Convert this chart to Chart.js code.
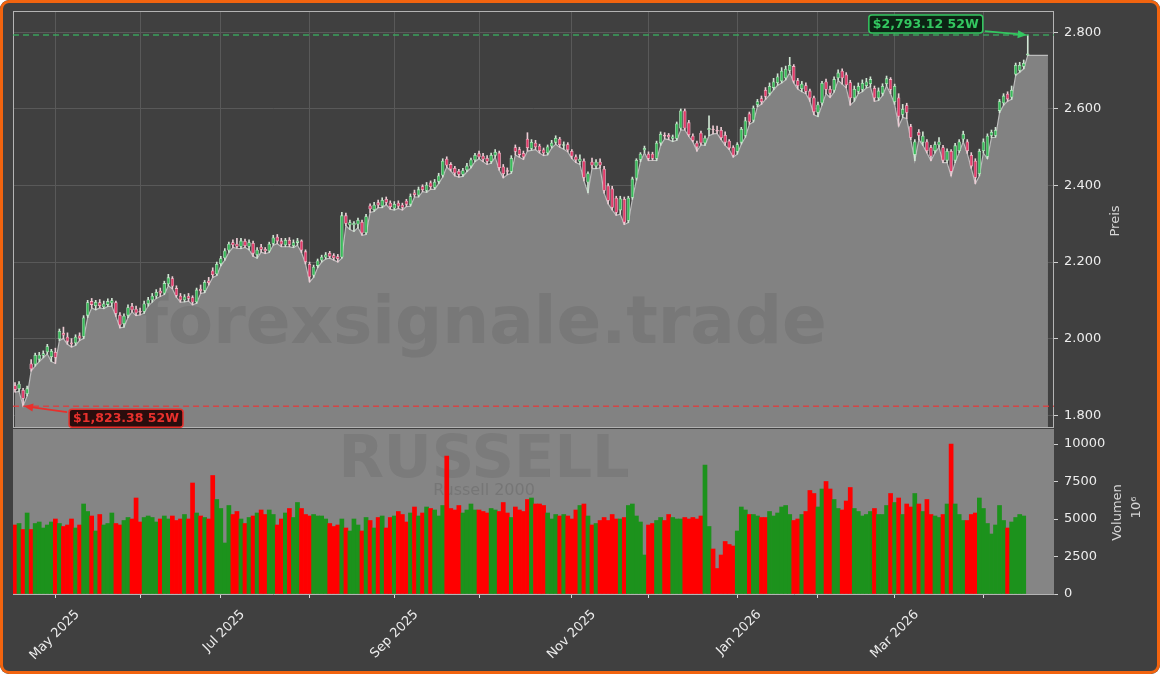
<!DOCTYPE html>
<html>
<head>
<meta charset="utf-8">
<script src="https://cdn.jsdelivr.net/npm/chart.js@4.4.1/dist/chart.umd.min.js"></script>
<style>
  body { margin: 0; background: #ffffff; }
  #wrap { position: relative; width: 1160px; height: 674px; background: #404040; border-radius: 9px; overflow: hidden; }
  #frame { position: absolute; left: 0; top: 0; width: 1160px; height: 674px; box-sizing: border-box;
           border: 3px solid #f2640f; border-radius: 9px; pointer-events: none; }
  #price { position: absolute; left: 0; top: -20px; }
  #volume { position: absolute; left: 0; top: 0; }
</style>
</head>
<body>
<div id="wrap">
  <canvas id="price" width="1160" height="694"></canvas>
  <canvas id="volume" width="1160" height="674"></canvas>
  <div id="frame"></div>
</div>
<script>
// Russell 2000, daily candles, 52 weeks
const opens = [
  1878,1868,1866,1855,1935,1932,1945,1955,1964,1952, 1965,1998,2015,2005,1990,1988,2008,2005,2060,2098,
  2085,2095,2082,2088,2092,2095,2062,2038,2060,2085, 2078,2072,2070,2090,2100,2110,2125,2118,2142,2158,
  2132,2112,2100,2112,2108,2095,2130,2125,2152,2178, 2168,2195,2210,2230,2252,2248,2240,2255,2240,2250,
  2218,2240,2234,2228,2248,2266,2256,2244,2258,2242, 2250,2256,2228,2195,2165,2190,2204,2212,2224,2218,
  2215,2212,2322,2296,2296,2298,2305,2276,2348,2336, 2356,2346,2365,2355,2340,2355,2350,2360,2350,2382,
  2374,2398,2386,2408,2394,2410,2426,2470,2456,2446, 2438,2428,2440,2450,2466,2484,2478,2472,2462,2478,
  2486,2450,2440,2436,2500,2495,2485,2522,2496,2512, 2504,2494,2484,2502,2512,2522,2504,2508,2490,2476,
  2462,2465,2408,2462,2450,2462,2444,2400,2392,2368, 2335,2365,2308,2368,2418,2467,2492,2483,2483,2470,
  2510,2532,2532,2522,2522,2549,2596,2565,2530,2512, 2538,2510,2545,2548,2545,2545,2532,2517,2500,2488,
  2512,2530,2588,2570,2610,2628,2650,2640,2655,2668, 2672,2680,2700,2712,2675,2652,2662,2648,2630,2590,
  2615,2672,2652,2648,2680,2700,2690,2670,2628,2645, 2650,2660,2665,2655,2628,2640,2665,2678,2618,2630,
  2585,2610,2555,2480,2540,2512,2515,2500,2490,2505, 2500,2465,2490,2465,2490,2520,2515,2480,2465,2430,
  2490,2475,2530,2530,2595,2615,2640,2630,2690,2700, 2710,2740
];
const highs = [
  1885,1888,1870,1876,1945,1962,1964,1968,1985,1972, 1975,2025,2030,2015,2000,2010,2015,2060,2100,2105,
  2100,2102,2098,2104,2105,2098,2068,2065,2088,2092, 2085,2080,2098,2108,2118,2128,2132,2150,2168,2162,
  2138,2118,2115,2118,2112,2132,2140,2152,2160,2185, 2200,2215,2235,2252,2258,2262,2262,2260,2258,2255,
  2238,2246,2238,2252,2270,2272,2262,2262,2264,2258, 2262,2258,2232,2200,2192,2208,2218,2225,2228,2222,
  2220,2330,2328,2310,2306,2315,2310,2325,2352,2356, 2362,2368,2370,2360,2358,2360,2354,2364,2378,2388,
  2396,2402,2408,2412,2416,2432,2470,2475,2460,2450, 2442,2445,2458,2472,2484,2490,2484,2478,2485,2494,
  2490,2455,2446,2478,2506,2500,2490,2538,2520,2518, 2508,2498,2506,2518,2530,2526,2514,2512,2494,2480,
  2480,2470,2436,2472,2468,2470,2450,2405,2398,2372, 2372,2370,2372,2422,2470,2486,2503,2488,2487,2516,
  2540,2538,2536,2532,2566,2600,2600,2570,2535,2516, 2542,2530,2582,2556,2555,2552,2540,2520,2504,2512,
  2552,2578,2592,2608,2625,2634,2656,2668,2680,2692, 2708,2712,2735,2716,2680,2672,2668,2652,2634,2618,
  2672,2678,2660,2684,2702,2705,2695,2675,2660,2668, 2676,2680,2684,2660,2655,2666,2686,2682,2665,2640,
  2612,2615,2560,2520,2546,2540,2520,2505,2514,2525, 2505,2496,2494,2510,2520,2542,2520,2486,2470,2495,
  2522,2535,2545,2552,2625,2640,2645,2660,2720,2722, 2728,2793.12
];
const lows = [
  1860,1862,1823.38,1850,1915,1928,1940,1950,1960,1940, 1935,1995,2000,1985,1978,1982,1995,2000,2055,2080,
  2075,2080,2078,2084,2085,2058,2028,2030,2055,2070, 2060,2062,2066,2085,2095,2105,2110,2115,2138,2130,
  2108,2095,2096,2098,2088,2092,2118,2120,2140,2160, 2165,2190,2205,2225,2238,2236,2235,2238,2232,2215,
  2210,2226,2222,2225,2244,2248,2240,2240,2240,2238, 2244,2225,2195,2148,2160,2185,2200,2208,2210,2205,
  2200,2210,2295,2285,2280,2290,2270,2272,2330,2332, 2342,2342,2350,2338,2336,2340,2336,2345,2346,2370,
  2370,2384,2382,2390,2390,2405,2422,2448,2438,2425, 2422,2424,2436,2446,2462,2470,2462,2455,2458,2474,
  2440,2420,2428,2432,2480,2474,2468,2490,2492,2494, 2485,2478,2480,2498,2508,2500,2495,2488,2470,2460,
  2455,2412,2381,2445,2444,2446,2380,2352,2336,2322, 2325,2298,2303,2364,2414,2462,2486,2465,2466,2465,
  2505,2522,2520,2515,2518,2545,2545,2528,2514,2490, 2506,2505,2530,2535,2536,2520,2505,2494,2474,2482,
  2508,2526,2560,2566,2606,2612,2625,2636,2650,2662, 2668,2676,2695,2668,2652,2645,2640,2620,2585,2580,
  2610,2640,2630,2644,2675,2665,2655,2610,2620,2640, 2645,2655,2658,2620,2622,2635,2660,2640,2612,2555,
  2578,2575,2520,2465,2520,2505,2485,2465,2485,2500, 2460,2460,2425,2460,2486,2515,2484,2445,2405,2425,
  2485,2470,2525,2526,2590,2610,2620,2625,2688,2696, 2705,2740
];
const closes = [
  1866,1882,1843,1870,1920,1957,1958,1962,1980,1968, 1950,2020,2008,1992,1985,2005,2000,2055,2095,2088,
  2096,2085,2092,2098,2100,2065,2035,2060,2082,2074, 2066,2068,2092,2102,2112,2122,2118,2145,2160,2136,
  2112,2100,2110,2104,2094,2128,2124,2148,2145,2166, 2195,2210,2230,2248,2244,2240,2256,2242,2252,2222,
  2232,2232,2228,2248,2264,2254,2246,2258,2245,2252, 2256,2230,2200,2160,2188,2204,2214,2220,2214,2210,
  2208,2322,2300,2304,2302,2310,2275,2320,2338,2350, 2348,2362,2355,2344,2352,2345,2342,2350,2372,2375,
  2390,2388,2402,2396,2410,2426,2465,2452,2442,2432, 2428,2440,2452,2468,2480,2474,2468,2462,2480,2488,
  2446,2430,2436,2472,2488,2480,2474,2498,2514,2500, 2490,2484,2502,2512,2524,2506,2508,2492,2476,2466,
  2470,2420,2432,2452,2462,2452,2386,2360,2342,2329, 2366,2303,2368,2418,2467,2483,2498,2470,2470,2512,
  2535,2528,2526,2528,2562,2596,2549,2532,2517,2500, 2510,2525,2550,2545,2541,2524,2512,2497,2478,2508,
  2548,2570,2565,2603,2620,2618,2632,2660,2672,2685, 2700,2705,2715,2672,2660,2666,2645,2628,2592,2612,
  2668,2650,2640,2678,2695,2680,2662,2628,2652,2660, 2668,2672,2678,2628,2648,2660,2680,2650,2660,2580,
  2600,2590,2525,2515,2530,2530,2490,2476,2508,2515, 2465,2490,2436,2505,2515,2535,2490,2450,2420,2490,
  2515,2530,2540,2545,2620,2635,2625,2650,2715,2715, 2720,2745
];
// volume in millions, last session has no volume yet
const volumes = [
  4600,4700,4300,5400,4300,4700,4800,4400,4600,4800, 5000,4700,4500,4600,5000,4400,4600,6000,5500,5200,
  4200,5300,4600,4700,5400,4700,4600,4900,5100,5000, 6400,4800,5100,5200,5100,4800,5000,5200,5000,5200,
  4900,5000,5300,5000,7400,5400,5200,5100,5000,7900, 6300,5700,3400,5900,5300,5500,5000,4700,5100,5200,
  5400,5600,5300,5600,5300,4600,5000,5400,5700,5100, 6100,5700,5300,5200,5300,5200,5200,5000,4700,4500,
  4600,5000,4400,4200,5000,4600,4200,5100,4900,4400, 5100,5200,4400,5100,5200,5500,5300,4800,5400,5800,
  5200,5400,5800,5700,5600,5200,5900,9200,5700,5600, 5900,5400,5600,6000,5600,5600,5500,5400,5700,5600,
  5500,6100,5400,5100,5800,5600,5500,6300,6400,6000, 6000,5900,5400,5000,5300,5200,5300,5200,5000,5600,
  5900,6000,5200,4600,4700,4900,5100,4900,5300,5000, 5000,5100,5900,6000,5200,4800,2600,4600,4700,4900,
  5100,4900,5300,5100,5000,5000,5100,5000,5100,5000, 5200,8600,4500,3000,1700,2600,3500,3300,3200,4200,
  5800,5600,5300,5300,5200,5100,5100,5500,5200,5400, 5800,5900,5300,4900,5000,5300,5500,6900,6700,5800,
  7000,7500,7000,6300,5700,5600,6200,7100,5700,5500, 5200,5300,5500,5700,5300,5300,5900,6700,6100,6400,
  5300,6000,5800,6700,6000,5500,6300,5300,5200,5100, 5300,6000,10000,6000,5300,4900,4900,5300,5400,6400,
  5700,4700,4000,4600,5900,4900,4400,4800,5100,5300, 5200,null
];
// shaded low line runs on a few sessions past the last candle
const areaTail = [2740, 2740, 2740, 2740, 2740];
const priceTicks = [1800, 2000, 2200, 2400, 2600, 2800];
const volumeTicks = [0, 2500, 5000, 7500, 10000];
const labelledMonths = ['2025-05', '2025-07', '2025-09', '2025-11', '2026-01', '2026-03'];
const monthNames = ['Jan','Feb','Mar','Apr','May','Jun','Jul','Aug','Sep','Oct','Nov','Dec'];
const holidays = ['2025-04-18','2025-05-26','2025-06-19','2025-07-04','2025-09-01','2025-11-27',
                  '2025-12-25','2026-01-01','2026-01-19','2026-02-16','2026-04-03'];
const slotCount = 258;

// trading days as categories
const days = [];
const d = new Date(Date.UTC(2025, 3, 16));
while (days.length < slotCount) {
  const iso = d.toISOString().slice(0, 10);
  const wd = d.getUTCDay();
  if (wd !== 0 && wd !== 6 && !holidays.includes(iso)) days.push(iso);
  d.setUTCDate(d.getUTCDate() + 1);
}
const monthStarts = [];
for (let i = 1; i < days.length; i++) {
  if (days[i].slice(0, 7) !== days[i - 1].slice(0, 7)) monthStarts.push(i);
}

const UP = '#38bc5a', DOWN = '#e43a6a';
const isUp = closes.map((c, i) => c >= opens[i]);
const bodies = opens.map((o, i) => [o, closes[i]]);
const wicks = lows.map((l, i) => [l, highs[i]]);
const areaLine = lows.concat(areaTail);

const fmtDE = v => String(v).replace(/\B(?=(\d{3})+(?!\d))/g, '.');
const fmtUS = v => '$' + v.toLocaleString('en-US', { minimumFractionDigits: 2, maximumFractionDigits: 2 });

Chart.defaults.font.family = '"DejaVu Sans", sans-serif';
Chart.defaults.color = '#e8e8e8';

function rotatedTitles(ctx, items) {
  ctx.save();
  ctx.fillStyle = '#d6d6d6';
  ctx.font = '13px "DejaVu Sans"';
  ctx.textAlign = 'center';
  ctx.textBaseline = 'middle';
  items.forEach(t => {
    ctx.save();
    ctx.translate(t.x, t.y);
    ctx.rotate(-Math.PI / 2);
    ctx.fillText(t.text, 0, 0);
    ctx.restore();
  });
  ctx.restore();
}

function tag(ctx, text, x, y, alignRight, color, fill) {
  ctx.font = 'bold 12.5px "DejaVu Sans"';
  const w = ctx.measureText(text).width + 8, h = 18;
  const left = alignRight ? x - w : x;
  ctx.beginPath();
  ctx.roundRect(left, y - h / 2, w, h, 3);
  ctx.fillStyle = fill;
  ctx.fill();
  ctx.lineWidth = 1.5;
  ctx.strokeStyle = color;
  ctx.stroke();
  ctx.fillStyle = color;
  ctx.textAlign = 'left';
  ctx.textBaseline = 'middle';
  ctx.fillText(text, left + 4, y + 1);
}

function arrow(ctx, x1, y1, x2, y2, color) {
  const ang = Math.atan2(y2 - y1, x2 - x1);
  ctx.strokeStyle = color;
  ctx.fillStyle = color;
  ctx.lineWidth = 1.8;
  ctx.beginPath();
  ctx.moveTo(x1, y1);
  ctx.lineTo(x2 - 7 * Math.cos(ang), y2 - 7 * Math.sin(ang));
  ctx.stroke();
  ctx.beginPath();
  ctx.moveTo(x2, y2);
  ctx.lineTo(x2 - 9 * Math.cos(ang) + 4 * Math.sin(ang), y2 - 9 * Math.sin(ang) - 4 * Math.cos(ang));
  ctx.lineTo(x2 - 9 * Math.cos(ang) - 4 * Math.sin(ang), y2 - 9 * Math.sin(ang) + 4 * Math.cos(ang));
  ctx.closePath();
  ctx.fill();
}

const pricePlugin = {
  id: 'pricePlugin',
  afterDatasetDraw(chart, args) {
    if (args.index !== 0) return;
    const { ctx, chartArea: a } = chart;
    ctx.save();
    ctx.beginPath();
    ctx.rect(a.left, a.top, a.right - a.left, a.bottom - a.top);
    ctx.clip();
    ctx.fillStyle = 'rgba(25,25,25,0.09)';
    ctx.font = 'bold 66px "DejaVu Sans"';
    ctx.textAlign = 'center';
    ctx.textBaseline = 'middle';
    ctx.fillText('forexsignale.trade', 483, a.top + 315);
    ctx.restore();
  },
  afterDatasetsDraw(chart) {
    const { ctx, chartArea: a, scales: { x, y } } = chart;
    ctx.save();
    ctx.strokeStyle = '#b4b4b4';
    ctx.lineWidth = 1;
    ctx.strokeRect(a.left + 0.5, a.top + 0.5, a.right - a.left - 1, a.bottom - a.top);

    const hi = Math.max(...highs), lo = Math.min(...lows);
    const iHi = highs.indexOf(hi), iLo = lows.indexOf(lo);
    const yHi = y.getPixelForValue(hi), yLo = y.getPixelForValue(lo);
    ctx.setLineDash([6, 4]);
    ctx.lineWidth = 1.5;
    ctx.strokeStyle = 'rgba(56,176,96,0.85)';
    ctx.beginPath(); ctx.moveTo(a.left, yHi); ctx.lineTo(a.right, yHi); ctx.stroke();
    ctx.strokeStyle = 'rgba(226,60,60,0.85)';
    ctx.beginPath(); ctx.moveTo(a.left, yLo); ctx.lineTo(a.right, yLo); ctx.stroke();
    ctx.setLineDash([]);

    const xHi = x.getPixelForValue(iHi), xLo = x.getPixelForValue(iLo);
    tag(ctx, fmtUS(hi) + ' 52W', xHi - 45, yHi - 11, true, '#33c860', '#0c2414');
    arrow(ctx, xHi - 43, yHi - 4, xHi - 1, yHi, '#33c860');
    tag(ctx, fmtUS(lo) + ' 52W', xLo + 46, yLo + 12, false, '#e8302c', '#2a0d0d');
    arrow(ctx, xLo + 44, yLo + 6, xLo + 1, yLo, '#e8302c');

    ctx.restore();
  },
  afterDraw(chart) {
    const a = chart.chartArea;
    rotatedTitles(chart.ctx, [{ text: 'Preis', x: a.right + 62, y: (a.top + a.bottom) / 2 + 2 }]);
  }
};

const volumePlugin = {
  id: 'volumePlugin',
  beforeDatasetsDraw(chart) {
    const { ctx, chartArea: a } = chart;
    ctx.save();
    ctx.fillStyle = '#858585';
    ctx.fillRect(a.left, a.top, a.right - a.left, a.bottom - a.top);
    ctx.textAlign = 'center';
    ctx.textBaseline = 'middle';
    ctx.fillStyle = 'rgba(25,25,25,0.09)';
    ctx.font = 'bold 59px "DejaVu Sans"';
    ctx.fillText('RUSSELL', 484, a.top + 33);
    ctx.fillStyle = 'rgba(25,25,25,0.14)';
    ctx.font = '16px "DejaVu Sans"';
    ctx.fillText('Russell 2000', 484, a.top + 62);
    ctx.restore();
  },
  afterDraw(chart) {
    const a = chart.chartArea;
    const cy = (a.top + a.bottom) / 2;
    rotatedTitles(chart.ctx, [
      { text: 'Volumen', x: a.right + 64, y: cy + 1 },
      { text: '10\u2076', x: a.right + 83, y: cy - 4 }
    ]);
  }
};

new Chart(document.getElementById('price'), {
  data: {
    labels: days,
    datasets: [
      { type: 'line', label: 'Tief', data: areaLine, fill: 'start', backgroundColor: '#828282',
        borderColor: '#bcbcbc', borderWidth: 1.2, pointRadius: 0, tension: 0, order: 3 },
      { type: 'bar', label: 'Docht', data: wicks, grouped: false, barThickness: 1,
        backgroundColor: isUp.map(u => u ? '#d0e6d4' : '#ecccd4'), order: 2 },
      { type: 'bar', label: 'Kerze', data: bodies, grouped: false, barPercentage: 0.86, categoryPercentage: 1,
        backgroundColor: isUp.map(u => u ? UP : DOWN), borderColor: isUp.map(u => u ? '#b4e6bd' : '#f2b6c6'),
        borderWidth: 0.8, borderSkipped: false, minBarLength: 1, order: 1 }
    ]
  },
  options: {
    responsive: false,
    animation: false,
    layout: { padding: { left: 13, top: 31, right: 0, bottom: 247 } },
    plugins: { legend: { display: false }, tooltip: { enabled: false } },
    scales: {
      x: {
        type: 'category', offset: true,
        grid: { color: '#595959', drawTicks: false, offset: false },
        border: { display: false },
        ticks: { display: false, autoSkip: false },
        afterBuildTicks: s => { s.ticks = monthStarts.map(v => ({ value: v })); },
        afterFit: s => { s.height = 0; }
      },
      y: {
        position: 'right', min: 1769, max: 2856,
        afterBuildTicks: s => { s.ticks = priceTicks.map(v => ({ value: v })); },
        afterFit: s => { s.width = 106; },
        grid: { color: '#595959', tickColor: '#d0d0d0', tickLength: 4 },
        border: { display: false },
        ticks: { color: '#ececec', font: { size: 13 }, padding: 6, callback: v => fmtDE(v) }
      }
    }
  },
  plugins: [pricePlugin]
});

new Chart(document.getElementById('volume'), {
  type: 'bar',
  data: {
    labels: days,
    datasets: [
      { label: 'Volumen', data: volumes, barPercentage: 1, categoryPercentage: 1,
        backgroundColor: isUp.map(u => u ? '#1c921c' : '#ff0000') }
    ]
  },
  options: {
    responsive: false,
    animation: false,
    layout: { padding: { left: 13, top: 429, right: 0, bottom: 0 } },
    plugins: { legend: { display: false }, tooltip: { enabled: false } },
    scales: {
      x: {
        type: 'category', offset: true,
        grid: { drawOnChartArea: false, tickColor: '#d8d8d8', tickLength: 4, offset: false },
        border: { color: '#b4b4b4', width: 1 },
        ticks: {
          autoSkip: false, minRotation: 45, maxRotation: 45, labelOffset: 22, padding: 9,
          color: '#ececec', font: { size: 13 },
          callback: v => {
            const m = days[v].slice(0, 7);
            if (!labelledMonths.includes(m)) return '';
            return monthNames[+m.slice(5) - 1] + ' ' + m.slice(0, 4);
          }
        },
        afterBuildTicks: s => { s.ticks = monthStarts.map(v => ({ value: v })); },
        afterFit: s => { s.height = 80; }
      },
      y: {
        position: 'right', min: 0, max: 11000,
        afterBuildTicks: s => { s.ticks = volumeTicks.map(v => ({ value: v })); },
        afterFit: s => { s.width = 106; },
        grid: { drawOnChartArea: false, tickColor: '#d0d0d0', tickLength: 4 },
        border: { display: false },
        ticks: { color: '#ececec', font: { size: 13 }, padding: 6, callback: v => String(v) }
      }
    }
  },
  plugins: [volumePlugin]
});
</script>
</body>
</html>
